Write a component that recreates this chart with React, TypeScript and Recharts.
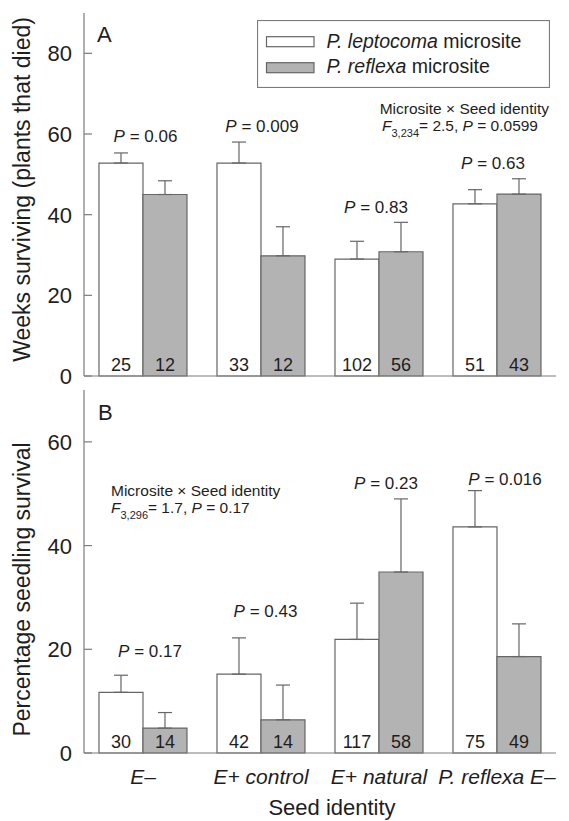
import React from "react";
import { BarChart, Bar, XAxis, YAxis, ErrorBar, LabelList, Legend } from "recharts";

const FONT = '"Liberation Sans", Arial, Helvetica, sans-serif';
const AXIS = "#7c7c7c";
const EDGE = "#666666";
const GREY = "#b3b3b3";
const INK = "#1e1e1e";

// seed identity groups (x axis)
const groups = ["E–", "E+ control", "E+ natural", "P. reflexa E–"];
const legendSpecies = ["P. leptocoma", "P. reflexa"];

// panel A: weeks surviving
const weeksLepto = [52.8, 52.8, 29.0, 42.7];
const weeksLeptoSE = [2.5, 5.2, 4.4, 3.5];
const weeksReflexa = [45.0, 29.8, 30.8, 45.1];
const weeksReflexaSE = [3.4, 7.2, 7.3, 3.8];
const weeksNLepto = [25, 33, 102, 51];
const weeksNReflexa = [12, 12, 56, 43];
const weeksP = ["0.06", "0.009", "0.83", "0.63"];
const weeksTicks = [0, 20, 40, 60, 80];

// panel B: percentage seedling survival
const survLepto = [11.7, 15.2, 21.9, 43.6];
const survLeptoSE = [3.3, 7.0, 7.0, 7.0];
const survReflexa = [4.8, 6.4, 34.9, 18.6];
const survReflexaSE = [3.0, 6.7, 14.1, 6.3];
const survNLepto = [30, 42, 117, 75];
const survNReflexa = [14, 14, 58, 49];
const survP = ["0.17", "0.43", "0.23", "0.016"];
const survTicks = [0, 20, 40, 60];

function buildRows(lepto, leptoSE, reflexa, reflexaSE, nL, nR, p) {
  return groups.map((name, i) => ({
    idx: i,
    name,
    lepto: lepto[i],
    leptoErr: [0, leptoSE[i]],
    reflexa: reflexa[i],
    reflexaErr: [0, reflexaSE[i]],
    nL: nL[i],
    nR: nR[i],
    p: p[i],
    top: Math.max(lepto[i] + leptoSE[i], reflexa[i] + reflexaSE[i]),
  }));
}

const weeksRows = buildRows(weeksLepto, weeksLeptoSE, weeksReflexa, weeksReflexaSE, weeksNLepto, weeksNReflexa, weeksP);
const survRows = buildRows(survLepto, survLeptoSE, survReflexa, survReflexaSE, survNLepto, survNReflexa, survP);

const YTick = (props) => {
  const { x, y, payload } = props;
  return (
    <g>
      <line x1={x} x2={x + 8} y1={y} y2={y} stroke={AXIS} strokeWidth={1.2} />
      <text x={x - 12} y={y} dy={8} textAnchor="end" fontSize={22} fill={INK} fontFamily={FONT}>
        {payload.value}
      </text>
    </g>
  );
};

const XTick = (props) => {
  const { x, y, payload } = props;
  return (
    <text x={x} y={y + 29} textAnchor="middle" fontSize={21} fontStyle="italic" fill={INK} fontFamily={FONT}>
      {payload.value}
    </text>
  );
};

const countLabel = (props) => {
  const vb = props.viewBox || props;
  const { x, y, width, height } = vb;
  return (
    <text x={x + width / 2} y={y + height - 5} textAnchor="middle" fontSize={18} fill={INK} fontFamily={FONT}>
      {props.value}
    </text>
  );
};

const makePLabel = (rows, lift, shift) => (props) => {
  const vb = props.viewBox || props;
  const { x, y, height } = vb;
  const r = rows[props.value];
  if (!r) return null;
  const base = y + height;
  const perUnit = height / r.reflexa;
  const topPx = base - r.top * perUnit;
  return (
    <text x={x + shift[r.idx]} y={topPx - lift[r.idx]} textAnchor="middle" fontSize={17} fill={INK} fontFamily={FONT}>
      <tspan fontStyle="italic">P</tspan>
      <tspan> = {r.p}</tspan>
    </text>
  );
};

const LegendBox = () => (
  <svg width={293} height={68} style={{ display: "block" }}>
    <rect x={0.5} y={0.5} width={292} height={67} fill="#fff" stroke={AXIS} strokeWidth={1.2} />
    {legendSpecies.map((sp, i) => (
      <g key={sp}>
        <rect x={9.5} y={16.7 + i * 26} width={47.5} height={10} fill={i === 0 ? "#fff" : GREY} stroke={EDGE} strokeWidth={1.2} />
        <text x={69.5} y={28.3 + i * 25} fontSize={19.5} fill={INK} fontFamily={FONT}>
          <tspan fontStyle="italic">{sp}</tspan>
          <tspan> microsite</tspan>
        </text>
      </g>
    ))}
  </svg>
);

function Panel({ rows, width, height, margin, yMax, ticks, yTitle, titleShift, lift, shift, showX, xAxisHeight, legend }) {
  return (
    <BarChart width={width} height={height} data={rows} margin={margin} barCategoryGap="12.7%" barGap={0}>
      <XAxis
        dataKey="name"
        height={xAxisHeight}
        axisLine={{ stroke: AXIS, strokeWidth: 1.2 }}
        tickLine={false}
        tickSize={0}
        tick={showX ? <XTick /> : false}
        interval={0}
        label={
          showX
            ? {
                content: ({ viewBox }) => (
                  <text
                    x={viewBox.x + viewBox.width / 2 + 12}
                    y={viewBox.y + 62}
                    textAnchor="middle"
                    fontSize={22}
                    fill={INK}
                    fontFamily={FONT}
                  >
                    Seed identity
                  </text>
                ),
              }
            : undefined
        }
      />
      <XAxis xAxisId="top" orientation="top" dataKey="name" height={0} tick={false} tickLine={false} axisLine={{ stroke: AXIS, strokeWidth: 1.2 }} />
      <YAxis
        domain={[0, yMax]}
        ticks={ticks}
        width={84}
        axisLine={{ stroke: AXIS, strokeWidth: 1.2 }}
        tickLine={false}
        tickSize={0}
        tickMargin={0}
        tick={<YTick />}
        label={{
          content: ({ viewBox }) => {
            const cy = viewBox.y + viewBox.height / 2 + titleShift;
            return (
              <text x={30} y={cy} transform={`rotate(-90 30 ${cy})`} textAnchor="middle" fontSize={23} fill={INK} fontFamily={FONT}>
                {yTitle}
              </text>
            );
          },
        }}
      />
      <YAxis yAxisId="right" orientation="right" width={0} domain={[0, yMax]} tick={false} tickLine={false} axisLine={{ stroke: AXIS, strokeWidth: 1.2 }} />
      {legend && (
        <Legend
          layout="horizontal"
          verticalAlign="middle"
          align="center"
          wrapperStyle={{ position: "absolute", left: 257, top: 20, width: 293, height: 68 }}
          content={() => <LegendBox />}
        />
      )}
      <Bar dataKey="lepto" name="P. leptocoma microsite" fill="#ffffff" stroke={EDGE} strokeWidth={1.2} isAnimationActive={false}>
        <ErrorBar dataKey="leptoErr" width={7} stroke={EDGE} strokeWidth={1.2} />
        <LabelList dataKey="nL" content={countLabel} />
      </Bar>
      <Bar dataKey="reflexa" name="P. reflexa microsite" fill={GREY} stroke={EDGE} strokeWidth={1.2} isAnimationActive={false}>
        <ErrorBar dataKey="reflexaErr" width={7} stroke={EDGE} strokeWidth={1.2} />
        <LabelList dataKey="nR" content={countLabel} />
        <LabelList dataKey="idx" content={makePLabel(rows, lift, shift)} />
      </Bar>
    </BarChart>
  );
}

const Interaction = ({ x, y, anchor, df, f, p }) => (
  <g fontFamily={FONT} fontSize={15.5} fill={INK}>
    <text x={anchor === "end" ? x + 11 : x} y={y} textAnchor={anchor}>
      Microsite × Seed identity
    </text>
    <text x={x} y={y + 17} textAnchor={anchor}>
      <tspan fontStyle="italic">F</tspan>
      <tspan fontSize={11} dy={6}>{df}</tspan>
      <tspan dy={-6}>= {f}, </tspan>
      <tspan fontStyle="italic">P</tspan>
      <tspan> = {p}</tspan>
    </text>
  </g>
);

export default function App() {
  return (
    <div style={{ position: "absolute", left: 0, top: 0, width: 569, height: 821, background: "#fff" }}>
      <div style={{ position: "absolute", left: 0, top: 0 }}>
        <Panel
          rows={weeksRows}
          width={569}
          height={394}
          margin={{ top: 13, right: 13, bottom: 8, left: 0 }}
          yMax={90}
          ticks={weeksTicks}
          yTitle="Weeks surviving (plants that died)"
          titleShift={-5}
          lift={[10.5, 10, 9.5, 10]}
          shift={[2.5, 1, -3, -4]}
          showX={false}
          xAxisHeight={10}
          legend
        />
      </div>
      <div style={{ position: "absolute", left: 0, top: 386 }}>
        <Panel
          rows={survRows}
          width={569}
          height={435}
          margin={{ top: 4, right: 13, bottom: 0, left: 0 }}
          yMax={70}
          ticks={survTicks}
          yTitle="Percentage seedling survival"
          titleShift={18}
          lift={[18, 21, 10, 6]}
          shift={[7, 4.5, 7, 8]}
          showX
          xAxisHeight={68}
          legend={false}
        />
      </div>
      <svg width={569} height={821} style={{ position: "absolute", left: 0, top: 0, pointerEvents: "none" }}>
        <text x={97} y={42} fontSize={22} fill={INK} fontFamily={FONT}>A</text>
        <text x={98} y={420} fontSize={22} fill={INK} fontFamily={FONT}>B</text>
        <Interaction x={538} y={114} anchor="end" df="3,234" f="2.5" p="0.0599" />
        <Interaction x={111} y={496} anchor="start" df="3,296" f="1.7" p="0.17" />
      </svg>
    </div>
  );
}
